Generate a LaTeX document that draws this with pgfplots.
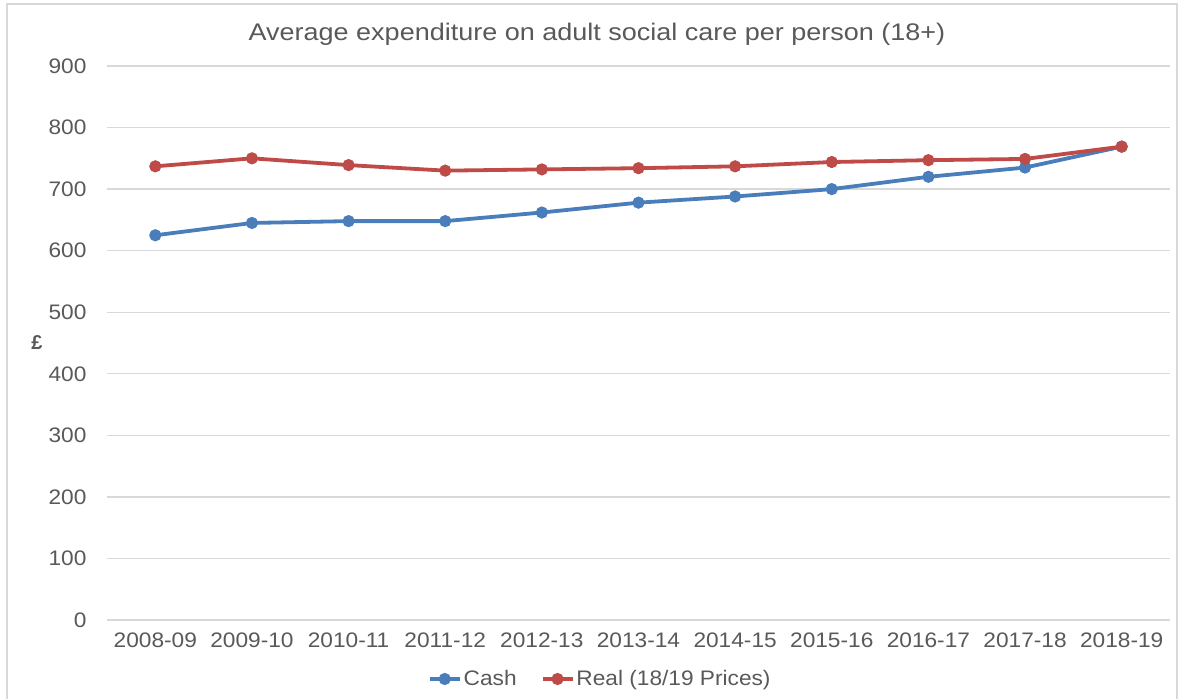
\documentclass[border=0pt]{standalone}
\usepackage{fontspec}
\setmainfont{Liberation Sans}
\newfontfamily\tickfont[FakeStretch=1.08]{Liberation Sans}
\newfontfamily\titlefont[FakeStretch=1.125]{Liberation Sans}
\usepackage{pgfplots}
\pgfplotsset{compat=1.18}
\definecolor{cashblue}{HTML}{4A7EBB}
\definecolor{realred}{HTML}{BE4B48}
\definecolor{txt}{HTML}{595959}
\definecolor{gridc}{HTML}{D9D9D9}
\begin{document}
\begin{tikzpicture}[x=1pt,y=1pt]
\useasboundingbox (0,0) rectangle (1179,699);
\draw[gridc, line width=1.5pt] (7,-5) rectangle (1177,695);
\begin{axis}[
  at={(107pt,79pt)}, anchor=south west,
  scale only axis, width=1063pt, height=554pt,
  xmin=-0.5, xmax=10.5, ymin=0, ymax=900,
  ytick={0,100,...,900},
  xtick={0,...,10},
  xticklabels={2008-09,2009-10,2010-11,2011-12,2012-13,2013-14,2014-15,2015-16,2016-17,2017-18,2018-19},
  axis line style={draw=none},
  major tick length=0pt,
  ymajorgrids,
  major grid style={gridc, line width=1.3pt},
  /pgf/number format/assume math mode=true,
  ticklabel style={font=\tickfont\fontsize{21}{25}\selectfont, text=txt},
  yticklabel style={xshift=-17pt},
  xticklabel style={yshift=-9pt},
  title={Average expenditure on adult social care per person (18+)},
  title style={font=\titlefont\fontsize{24}{28}\selectfont, text=txt, at={(axis description cs:0.461,1.046)}, anchor=center},
  ylabel={\textbf{£}},
  ylabel style={font=\fontsize{20}{24}\selectfont, text=txt, rotate=-90, at={(axis description cs:-0.0659,0.5)}, anchor=center},
  legend style={draw=none, fill=none, at={(axis description cs:0.464,-0.1065)}, anchor=center,
    font=\tickfont\fontsize{21}{25}\selectfont, text=txt, legend columns=2,
    /tikz/every even column/.append style={column sep=22pt}},
  legend image code/.code={\draw[#1, mark repeat=2, mark phase=2] plot coordinates {(0pt,0pt) (15pt,0pt) (30pt,0pt)};},
]
\addplot[cashblue, line width=3.8pt, mark=*, mark size=4.1pt, mark options={solid}] coordinates {
(0,625) (1,645) (2,648) (3,648) (4,662) (5,678) (6,688) (7,700) (8,720) (9,735) (10,769)};
\addlegendentry{Cash}
\addplot[realred, line width=3.8pt, mark=*, mark size=4.1pt, mark options={solid}] coordinates {
(0,737) (1,750) (2,739) (3,730) (4,732) (5,734) (6,737) (7,744) (8,747) (9,749) (10,769)};
\addlegendentry{Real (18/19 Prices)}
\end{axis}
\end{tikzpicture}
\end{document}
